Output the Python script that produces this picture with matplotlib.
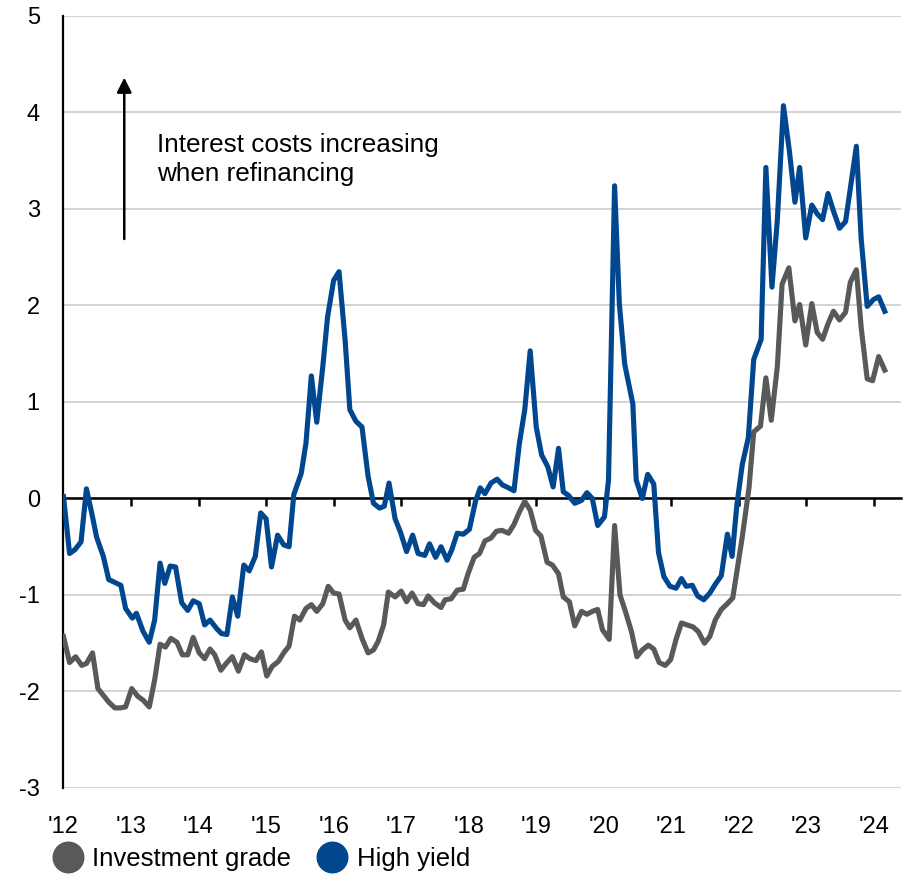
import matplotlib
matplotlib.use("Agg")
import matplotlib.pyplot as plt
from matplotlib.lines import Line2D

plt.rcParams['font.family'] = ['Liberation Sans', 'DejaVu Sans']
plt.rcParams['axes.unicode_minus'] = False

# dates as decimal years
hy_dates = [2012.0, 2012.09, 2012.17, 2012.26, 2012.34, 2012.43, 2012.49, 2012.59, 2012.67, 2012.76,
            2012.85, 2012.92, 2013.02, 2013.08, 2013.18, 2013.27, 2013.35, 2013.43, 2013.50, 2013.58,
            2013.66, 2013.75, 2013.84, 2013.92, 2014.01, 2014.09, 2014.17, 2014.27, 2014.34, 2014.42,
            2014.50, 2014.58, 2014.67, 2014.75, 2014.84, 2014.92, 2015.0, 2015.08, 2015.17, 2015.26,
            2015.34, 2015.41, 2015.52, 2015.59, 2015.67, 2015.75, 2015.84, 2015.91, 2016.0, 2016.08,
            2016.17, 2016.24, 2016.33, 2016.42, 2016.51, 2016.59, 2016.68, 2016.75, 2016.82, 2016.91,
            2016.99, 2017.08, 2017.17, 2017.25, 2017.35, 2017.42, 2017.51, 2017.59, 2017.68, 2017.75,
            2017.83, 2017.92, 2018.01, 2018.10, 2018.17, 2018.24, 2018.33, 2018.42, 2018.50, 2018.59,
            2018.67, 2018.75, 2018.83, 2018.91, 2019.0, 2019.08, 2019.17, 2019.25, 2019.33, 2019.40,
            2019.48, 2019.57, 2019.67, 2019.75, 2019.83, 2019.91, 2020.01, 2020.07, 2020.16, 2020.23,
            2020.31, 2020.43, 2020.48, 2020.57, 2020.65, 2020.74, 2020.81, 2020.89, 2020.98, 2021.07,
            2021.15, 2021.22, 2021.31, 2021.39, 2021.48, 2021.57, 2021.65, 2021.74, 2021.83, 2021.90,
            2021.97, 2022.05, 2022.14, 2022.22, 2022.33, 2022.40, 2022.49, 2022.57, 2022.66, 2022.75,
            2022.83, 2022.90, 2022.99, 2023.08, 2023.16, 2023.24, 2023.32, 2023.40, 2023.49, 2023.58,
            2023.66, 2023.74, 2023.81, 2023.90, 2023.99, 2024.07, 2024.16]
high_yield = [0.02, -0.57, -0.53, -0.45, 0.10, -0.19, -0.40, -0.60, -0.84, -0.87,
              -0.90, -1.14, -1.24, -1.19, -1.38, -1.49, -1.26, -0.67, -0.88, -0.70,
              -0.71, -1.08, -1.16, -1.06, -1.09, -1.31, -1.26, -1.35, -1.40, -1.41,
              -1.02, -1.22, -0.69, -0.75, -0.60, -0.15, -0.21, -0.71, -0.38, -0.48,
              -0.50, 0.04, 0.26, 0.57, 1.27, 0.79, 1.37, 1.88, 2.26, 2.35,
              1.64, 0.92, 0.80, 0.74, 0.23, -0.05, -0.10, -0.08, 0.16, -0.21,
              -0.35, -0.55, -0.38, -0.57, -0.59, -0.47, -0.61, -0.50, -0.64, -0.53,
              -0.36, -0.37, -0.32, -0.03, 0.11, 0.05, 0.16, 0.20, 0.14, 0.11,
              0.08, 0.57, 0.92, 1.53, 0.74, 0.45, 0.33, 0.12, 0.52, 0.07,
              0.03, -0.05, -0.02, 0.06, 0.0, -0.28, -0.19, 0.19, 3.24, 2.02,
              1.39, 0.98, 0.19, 0.0, 0.25, 0.15, -0.56, -0.81, -0.91, -0.93,
              -0.83, -0.91, -0.90, -1.01, -1.05, -0.98, -0.89, -0.80, -0.37, -0.60,
              -0.07, 0.35, 0.63, 1.44, 1.65, 3.43, 2.19, 2.89, 4.07, 3.59,
              3.07, 3.43, 2.70, 3.04, 2.95, 2.89, 3.16, 2.98, 2.80, 2.87,
              3.26, 3.65, 2.70, 1.99, 2.06, 2.09, 1.94]

ig_dates = [2012.0, 2012.09, 2012.18, 2012.27, 2012.34, 2012.43, 2012.51, 2012.59, 2012.67, 2012.76,
            2012.84, 2012.92, 2013.01, 2013.10, 2013.18, 2013.27, 2013.35, 2013.43, 2013.51, 2013.59,
            2013.68, 2013.76, 2013.84, 2013.92, 2014.01, 2014.09, 2014.17, 2014.24, 2014.33, 2014.42,
            2014.50, 2014.59, 2014.68, 2014.76, 2014.85, 2014.93, 2015.01, 2015.09, 2015.18, 2015.27,
            2015.34, 2015.42, 2015.50, 2015.59, 2015.67, 2015.75, 2015.84, 2015.92, 2016.0, 2016.08,
            2016.17, 2016.24, 2016.33, 2016.42, 2016.51, 2016.59, 2016.66, 2016.74, 2016.81, 2016.91,
            2017.0, 2017.08, 2017.16, 2017.25, 2017.33, 2017.40, 2017.49, 2017.59, 2017.65, 2017.74,
            2017.83, 2017.92, 2017.99, 2018.08, 2018.16, 2018.24, 2018.33, 2018.41, 2018.49, 2018.59,
            2018.67, 2018.75, 2018.83, 2018.91, 2018.99, 2019.07, 2019.16, 2019.24, 2019.33, 2019.40,
            2019.49, 2019.57, 2019.67, 2019.75, 2019.83, 2019.91, 2019.98, 2020.08, 2020.16, 2020.24,
            2020.32, 2020.41, 2020.49, 2020.57, 2020.66, 2020.74, 2020.82, 2020.91, 2020.99, 2021.07,
            2021.15, 2021.23, 2021.32, 2021.40, 2021.49, 2021.57, 2021.65, 2021.74, 2021.83, 2021.91,
            2021.99, 2022.05, 2022.15, 2022.22, 2022.32, 2022.40, 2022.48, 2022.57, 2022.64, 2022.74,
            2022.83, 2022.90, 2022.99, 2023.08, 2023.16, 2023.24, 2023.32, 2023.40, 2023.49, 2023.58,
            2023.65, 2023.74, 2023.81, 2023.90, 2023.98, 2024.07, 2024.16]
inv_grade = [-1.43, -1.70, -1.64, -1.73, -1.71, -1.60, -1.97, -2.04, -2.11, -2.17,
             -2.17, -2.16, -1.97, -2.05, -2.09, -2.16, -1.88, -1.51, -1.54, -1.45,
             -1.49, -1.62, -1.62, -1.44, -1.60, -1.66, -1.56, -1.62, -1.78, -1.70,
             -1.64, -1.79, -1.62, -1.66, -1.68, -1.59, -1.84, -1.74, -1.69, -1.59,
             -1.53, -1.22, -1.26, -1.14, -1.10, -1.17, -1.09, -0.91, -0.98, -0.99,
             -1.26, -1.34, -1.26, -1.45, -1.60, -1.57, -1.48, -1.31, -0.97, -1.02,
             -0.96, -1.07, -0.98, -1.09, -1.10, -1.01, -1.08, -1.13, -1.05, -1.04,
             -0.95, -0.94, -0.78, -0.61, -0.57, -0.44, -0.41, -0.34, -0.33, -0.36,
             -0.27, -0.14, -0.03, -0.12, -0.33, -0.39, -0.66, -0.69, -0.78, -1.02,
             -1.07, -1.32, -1.17, -1.20, -1.17, -1.15, -1.36, -1.46, -0.28, -1.00,
             -1.17, -1.38, -1.64, -1.57, -1.52, -1.56, -1.70, -1.73, -1.67, -1.46,
             -1.29, -1.31, -1.33, -1.38, -1.50, -1.43, -1.26, -1.15, -1.09, -1.03,
             -0.67, -0.40, 0.11, 0.69, 0.75, 1.25, 0.81, 1.37, 2.22, 2.39,
             1.84, 2.01, 1.59, 2.02, 1.72, 1.65, 1.81, 1.94, 1.85, 1.93,
             2.24, 2.37, 1.78, 1.24, 1.22, 1.47, 1.33]

years = list(range(2012, 2025))
year_labels = ["'" + str(y)[2:] for y in years]
y_ticks = list(range(-3, 6))

colors = {
    'ig': '#58595B',
    'hy': '#00478F',
    'grid': '#D0D0D0',
}

fig = plt.figure(figsize=(9.2, 8.77), dpi=100)
ax = fig.add_axes([0.069, 0.1015, 0.9103, 0.8803])

ax.plot(ig_dates, inv_grade, color=colors['ig'], lw=3.7, zorder=3, solid_joinstyle='round')
ax.plot(hy_dates, high_yield, color=colors['hy'], lw=3.7, zorder=4, solid_joinstyle='round')

ax.set_xlim(2012, 2024.40)
ax.set_ylim(-3, 5)

# grid + axes
ax.set_yticks(y_ticks)
ax.yaxis.grid(True, color=colors['grid'], lw=1.3)
ax.set_axisbelow(True)
ax.tick_params(axis='y', length=0, pad=17, labelsize=17)
ax.spines['top'].set_visible(False)
ax.spines['right'].set_visible(False)
ax.spines['left'].set_linewidth(1.6)
ax.spines['bottom'].set_position(('data', 0))
ax.spines['bottom'].set_linewidth(1.8)
ax.spines['bottom'].set_zorder(2.5)
ax.set_xticks(years)
ax.tick_params(axis='x', direction='out', length=6, width=1.8, labelbottom=False)

# year labels at the bottom of the plot
sec = ax.secondary_xaxis('bottom')
sec.set_xticks(years)
sec.set_xticklabels(year_labels)
sec.spines['bottom'].set_visible(False)
sec.tick_params(axis='x', length=0, pad=20, labelsize=17)

# annotation arrow
ax.annotate('', xy=(2012.90, 4.39), xytext=(2012.90, 2.66),
            arrowprops=dict(arrowstyle='-|>', lw=1.8, color='black', mutation_scale=22))
ax.text(2013.39, 3.51, 'Interest costs increasing\nwhen refinancing', fontsize=18.8,
        va='center', ha='left', linespacing=1.25)

handles = [Line2D([], [], marker='o', ls='', markersize=22, color=colors['ig']),
           Line2D([], [], marker='o', ls='', markersize=22, color=colors['hy'])]
fig.legend(handles, ['Investment grade', 'High yield'], loc='center left',
           bbox_to_anchor=(0.057, 0.021), ncol=2, frameon=False, fontsize=18.5,
           handletextpad=0.35, columnspacing=1.0, borderpad=0, borderaxespad=0,
           handlelength=1.2)

fig.savefig('out.png', dpi=100)
